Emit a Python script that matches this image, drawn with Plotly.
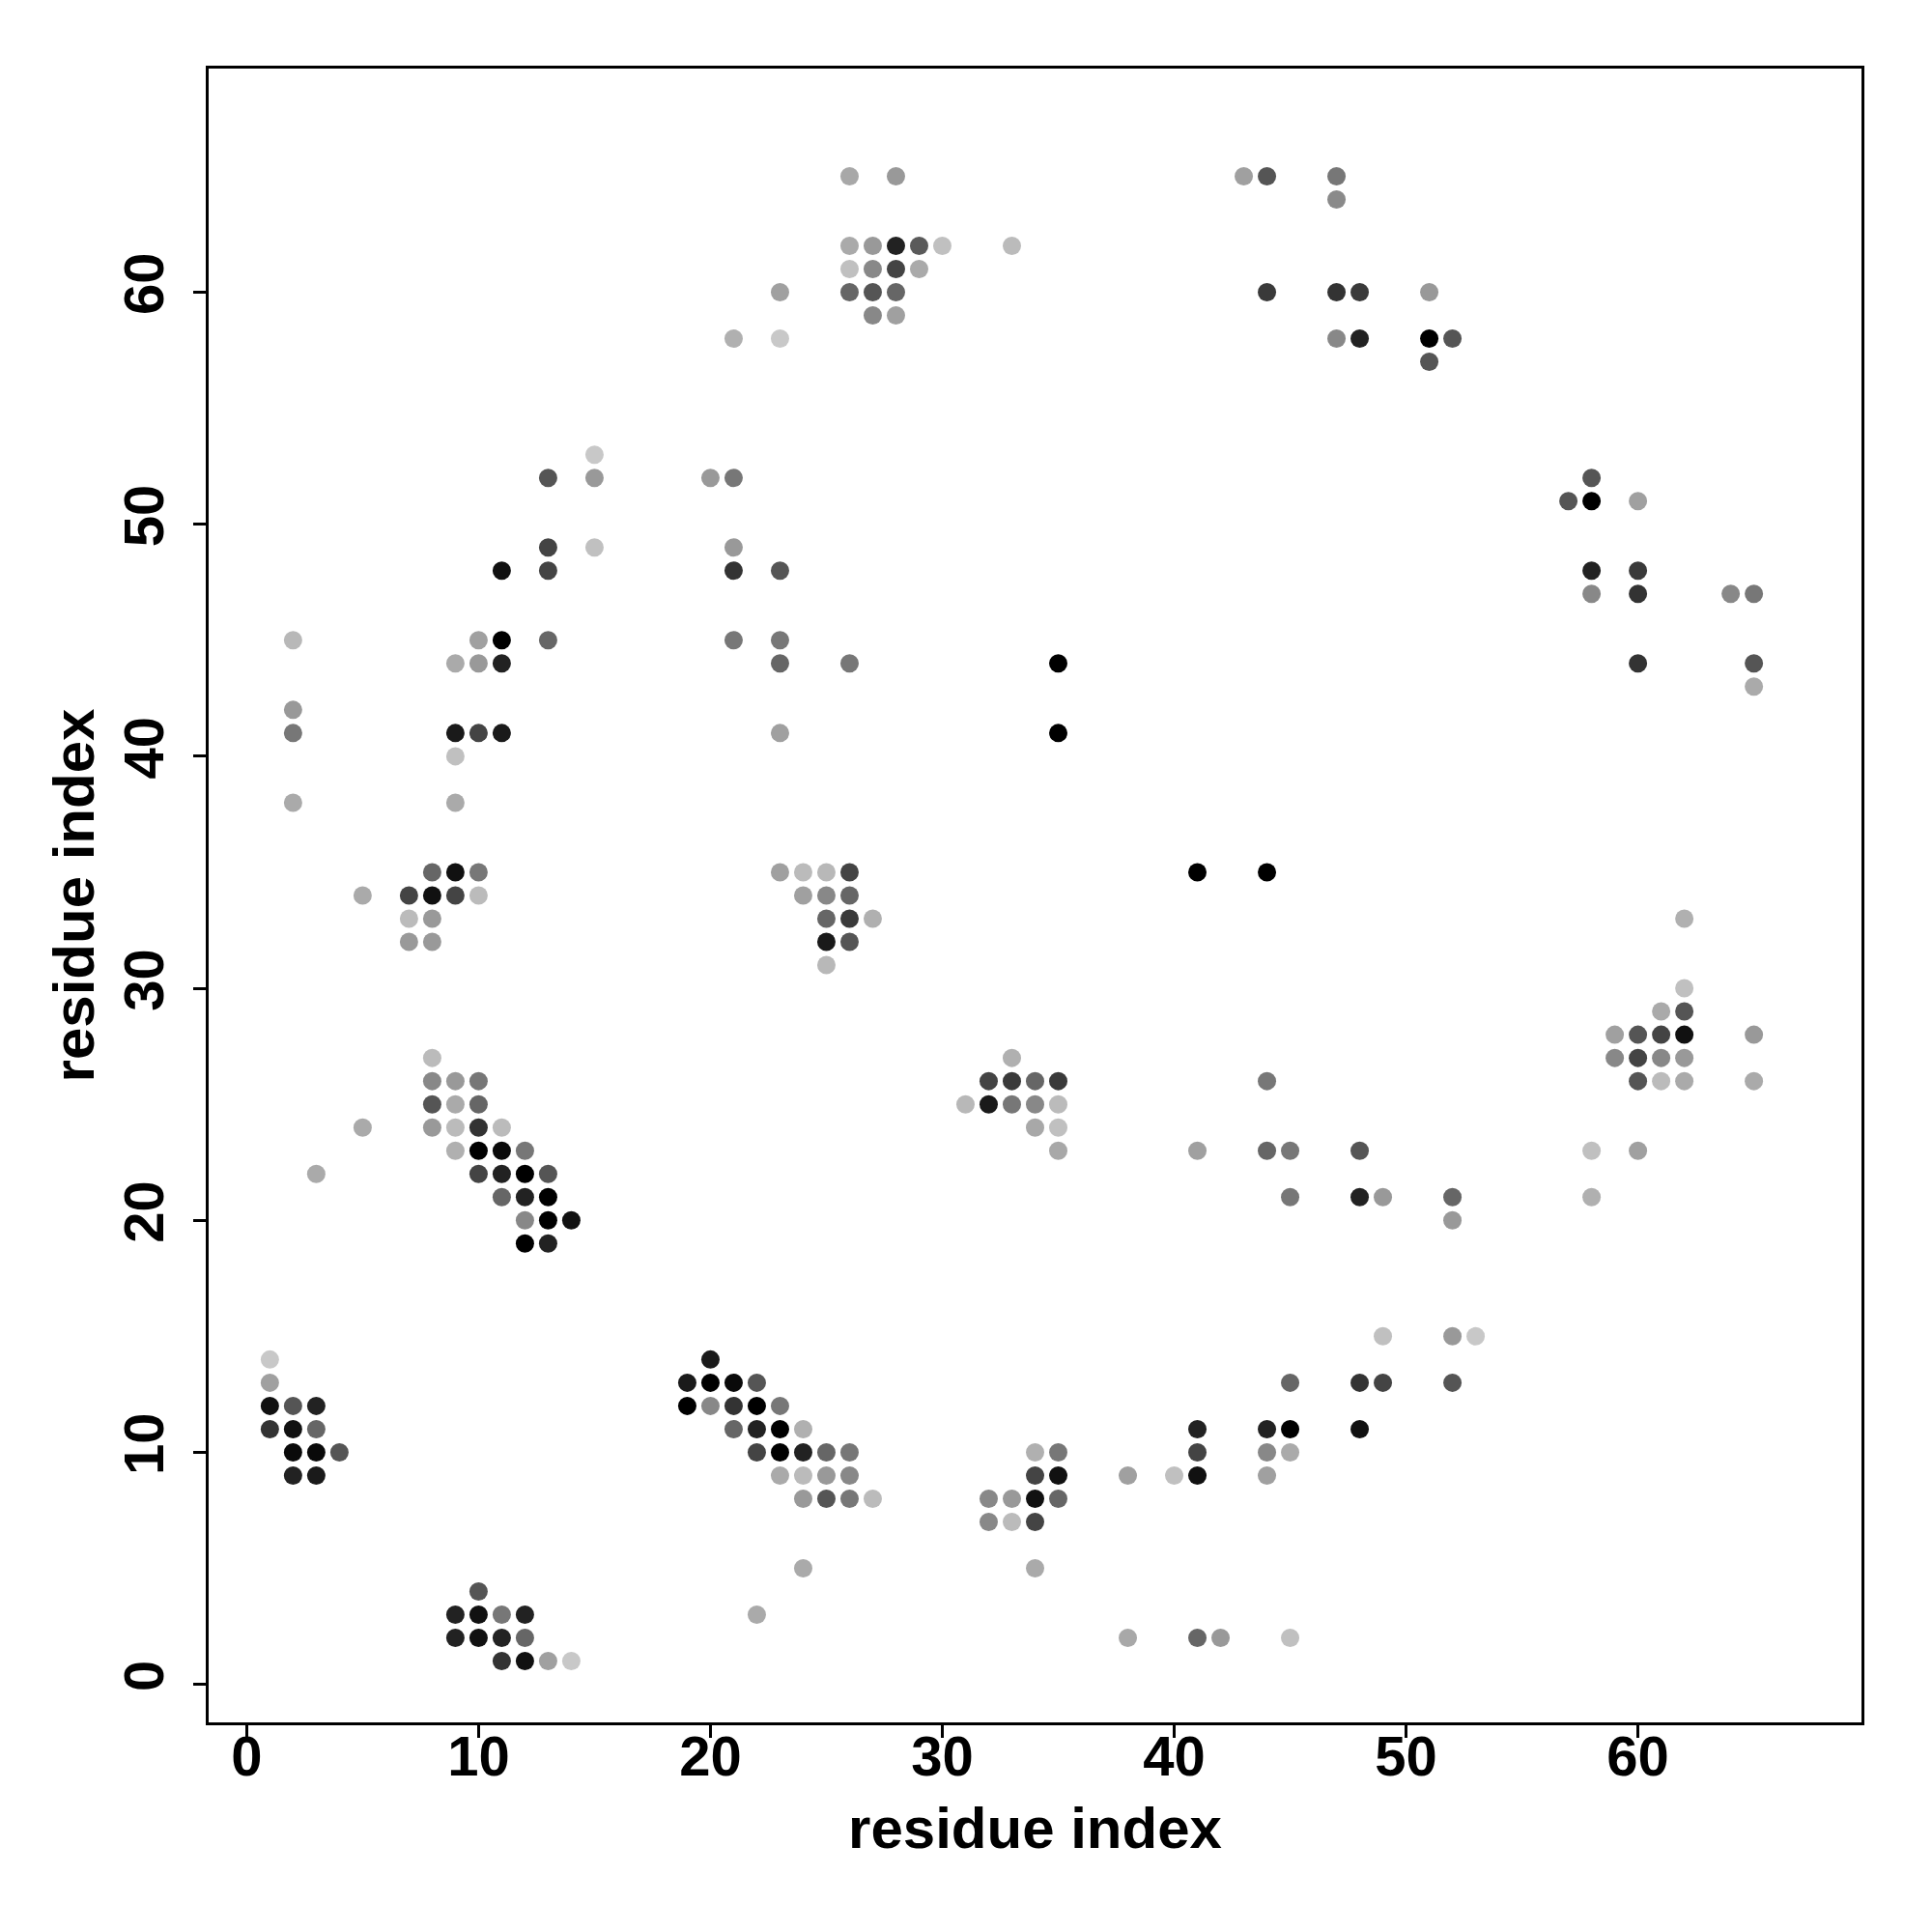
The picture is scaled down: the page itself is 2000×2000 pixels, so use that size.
import plotly.graph_objects as go

# contact points: residue i (x), residue j (y), gray level (0=black, 255=white)
xs = [26,28,43,44,47, 47, 26,27,28,29,30,33, 26,27,28,29,
      23,26,27,28,44,47,48,51, 27,28, 21,23,47,48,51,52, 51,
      15, 13,15,20,21,58, 57,58,60, 13,15,21, 11,13,21,23,58,60,
      58,60,64,65, 2,10,11,13,21,23, 9,10,11,23,26,35,60,65, 65,
      2, 2,9,10,11,23,35, 9, 2,9,
      8,9,10,23,24,25,26,41,44, 5,7,8,9,10,24,25,26,
      7,8,25,26,27,62, 7,8,25,26, 25, 62, 61,62,
      59,60,61,62,65, 8,33,59,60,61,62,
      8,9,10,32,33,34,35,44,60,61,62,65,
      8,9,10,31,32,33,34,35, 5,8,9,10,11,34,35,
      9,10,11,12,35,41,44,45,48,58,60,
      3,10,11,12,13, 11,12,13,45,48,49,52,58,
      12,13,14,52, 12,13, 49,52,53, 1,20,
      1,19,20,21,22,45,48,49,52,
      1,2,3,19,20,21,22,23,
      1,2,3,21,22,23,24,41,44,45,48,
      2,3,4,22,23,24,25,26,34,35,41,44,45,
      2,3,23,24,25,26,34,35,38,40,41,44,
      24,25,26,27,32,33,34,35, 32,33,34, 24,34, 10,
      9,10,11,12,22, 9,10,11,12,38,41,42,45, 11,12,13,14]
ys = [65,65,65,65,65, 64, 62,62,62,62,62,62, 61,61,61,61,
      60,60,60,60,60,60,60,60, 59,59, 58,58,58,58,58,58, 57,
      53, 52,52,52,52,52, 51,51,51, 49,49,49, 48,48,48,48,48,48,
      47,47,47,47, 45,45,45,45,45,45, 44,44,44,44,44,44,44,44, 43,
      42, 41,41,41,41,41,41, 40, 38,38,
      35,35,35,35,35,35,35,35,35, 34,34,34,34,34,34,34,34,
      33,33,33,33,33,33, 32,32,32,32, 31, 30, 29,29,
      28,28,28,28,28, 27,27,27,27,27,27,
      26,26,26,26,26,26,26,26,26,26,26,26,
      25,25,25,25,25,25,25,25, 24,24,24,24,24,24,24,
      23,23,23,23,23,23,23,23,23,23,23,
      22,22,22,22,22, 21,21,21,21,21,21,21,21,
      20,20,20,20, 19,19, 15,15,15, 14,14,
      13,13,13,13,13,13,13,13,13,
      12,12,12,12,12,12,12,12,
      11,11,11,11,11,11,11,11,11,11,11,
      10,10,10,10,10,10,10,10,10,10,10,10,10,
      9,9,9,9,9,9,9,9,9,9,9,9,
      8,8,8,8,8,8,8,8, 7,7,7, 5,5, 4,
      3,3,3,3,3, 2,2,2,2,2,2,2,2, 1,1,1,1]
grays = [168,153,160,85,119, 138, 170,153,34,90,192,187, 192,136,68,170,
         160,102,85,102,58,51,58,153, 136,160, 176,200,136,34,0,85, 85,
         200, 85,153,153,119,85, 85,0,160, 68,192,153, 17,68,51,85,34,58,
         136,51,136,119, 184,160,0,102,119,119, 170,153,34,102,119,0,51,85, 170,
         153, 119,26,68,26,160,0, 192, 170,170,
         102,17,119,160,187,184,68,0,0, 170,68,17,68,187,160,136,102,
         187,153,102,58,176,176, 153,153,26,85, 184, 192, 170,85,
         160,85,68,17,153, 187,176,136,68,136,153,
         136,153,119,68,58,102,58,119,85,187,170,170,
         85,170,102,184,26,119,136,187, 170,153,187,51,187,168,192,
         176,0,10,119,168,160,102,119,85,192,160,
         170,68,34,0,85, 102,34,0,119,34,153,102,176,
         136,0,17,153, 0,34, 192,153,200, 200,26,
         160,26,0,10,85,102,51,68,85,
         17,85,34,0,136,51,0,119,
         51,17,102,102,34,0,176,34,34,0,17,
         10,10,85,68,0,34,102,119,176,119,68,136,170,
         34,26,170,187,153,136,68,17,160,192,17,160,
         153,85,119,187,136,153,17,102, 136,187,68, 170,170, 85,
         34,17,119,34,170, 34,17,34,102,168,102,153,192, 51,17,160,200]

tick_vals = [0, 10, 20, 30, 40, 50, 60]
tick_text = ["0", "10", "20", "30", "40", "50", "60"]
axis_title = "residue index"

colors = [f"rgb({g},{g},{g})" for g in grays]

fig = go.Figure()
fig.add_trace(go.Scatter(
    x=xs, y=ys, mode="markers",
    marker=dict(size=19, color=colors, line=dict(width=0)),
    showlegend=False,
))

font_fam = "Liberation Sans, Arial, sans-serif"
axis_common = dict(
    range=[-1.64, 69.64],
    showgrid=False, zeroline=False,
    showline=True, linecolor="black", linewidth=2.5, mirror=True,
    ticks="outside", ticklen=13, tickwidth=2.5, tickcolor="black",
    tickvals=tick_vals, ticktext=tick_text,
    tickfont=dict(family=font_fam, size=58, color="black", weight="bold"),
)

fig.update_layout(
    width=2000, height=2000,
    paper_bgcolor="white", plot_bgcolor="white",
    margin=dict(l=208, r=81, t=63, b=225),
    font=dict(family=font_fam, color="black"),
    xaxis=dict(**axis_common, ticklabelstandoff=-30,
               title=dict(text=axis_title, standoff=22,
                          font=dict(family=font_fam, size=60, color="black", weight="bold"))),
    yaxis=dict(**axis_common, tickangle=-90, ticklabelstandoff=8,
               title=dict(text=axis_title, standoff=0,
                          font=dict(family=font_fam, size=60, color="black", weight="bold"))),
)

fig.write_html("out.html")
